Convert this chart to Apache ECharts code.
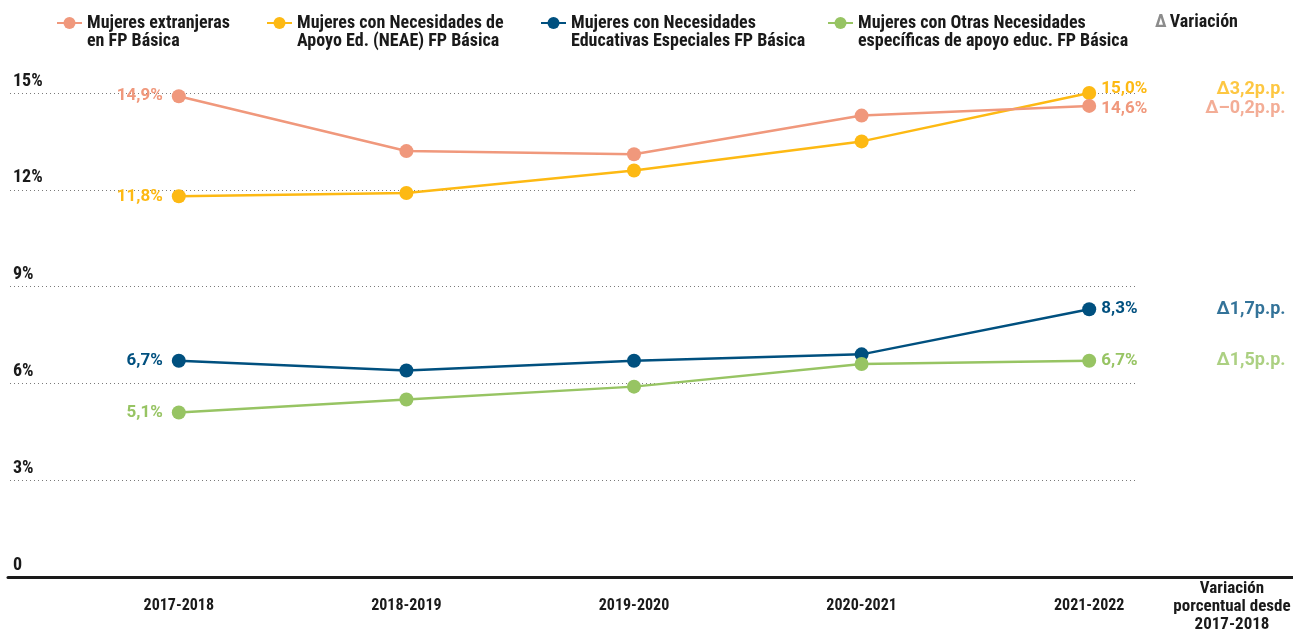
<!DOCTYPE html>
<html>
<head>
<meta charset="utf-8">
<script src="https://cdn.jsdelivr.net/npm/echarts@6/dist/echarts.min.js"></script>
<style>
  html, body { margin: 0; padding: 0; background: #ffffff; }
  #chart { width: 1293px; height: 630px; }
</style>
</head>
<body>
<div id="chart"></div>
<script>
// ---- Data ----
const categories = ['2017-2018', '2018-2019', '2019-2020', '2020-2021', '2021-2022'];
const seriesNames = [
  'Mujeres extranjeras\nen FP Básica',
  'Mujeres con Necesidades de\nApoyo Ed. (NEAE) FP Básica',
  'Mujeres con Necesidades\nEducativas Especiales FP Básica',
  'Mujeres con Otras Necesidades\nespecíficas de apoyo educ. FP Básica'
];
const extranjeras = [14.9, 13.2, 13.1, 14.3, 14.6];
const neae        = [11.8, 11.9, 12.6, 13.5, 15.0];
const nee         = [6.7, 6.4, 6.7, 6.9, 8.3];
const otras       = [5.1, 5.5, 5.9, 6.6, 6.7];
const variacion   = ['–0,2', '3,2', '1,7', '1,5']; // p.p. since 2017-2018
const yMin = 0, yMax = 15, yInterval = 3;
const variacionTitle = 'Variación\nporcentual desde\n2017-2018';

// ---- Styling ----
const colors = ['#F0987C', '#FDB913', '#00507F', '#97C463'];
const NARROW = '"Liberation Sans Narrow", "Roboto Condensed", "DejaVu Sans Condensed", "Arial Narrow", sans-serif';
const ROBOTO = 'Roboto, "Liberation Sans", sans-serif';
const allValues = [extranjeras, neae, nee, otras];
const legendLefts = [56, 266, 540, 827];
const endOffsets = [[0, 3], [0, -4], [0, 0], [0, 0]];
const fmt = v => v.toFixed(1).replace('.', ',') + '%';

const chart = echarts.init(document.getElementById('chart'), null, { renderer: 'canvas' });

const lineSeries = allValues.map((vals, s) => ({
  name: seriesNames[s],
  type: 'line',
  xAxisIndex: 1,
  yAxisIndex: 1,
  z: s === 0 ? 5 : 3,
  symbol: 'circle',
  symbolSize: 14,
  color: colors[s],
  lineStyle: { width: 2.5, color: colors[s] },
  itemStyle: { color: colors[s] },
  emphasis: { disabled: true },
  label: {
    show: false,
    color: colors[s],
    fontFamily: ROBOTO,
    fontWeight: 'bold',
    fontSize: 17,
    formatter: p => fmt(p.value)
  },
  data: vals.map((v, i) => {
    if (i === 0) return { value: v, label: { show: true, position: 'left', distance: 9 } };
    if (i === vals.length - 1) return { value: v, label: { show: true, position: 'right', distance: 5, offset: endOffsets[s] } };
    return v;
  })
}));

const deltaSeries = allValues.map((vals, s) => ({
  name: 'delta' + s,
  type: 'scatter',
  xAxisIndex: 2,
  yAxisIndex: 2,
  silent: true,
  symbolSize: 1,
  itemStyle: { color: 'rgba(0,0,0,0)' },
  label: {
    show: true,
    position: 'left',
    distance: 7,
    offset: endOffsets[s],
    color: colors[s],
    fontFamily: ROBOTO,
    fontWeight: 'bold',
    fontSize: 18,
    formatter: () => 'Δ' + variacion[s] + 'p.p.'
  },
  data: [[1, vals[vals.length - 1]]]
}));

const option = {
  animation: false,
  backgroundColor: '#ffffff',
  legend: seriesNames.map((n, i) => ({
    data: [n],
    left: legendLefts[i],
    top: -4,
    padding: 0,
    itemWidth: 25,
    itemHeight: 15,
    selectedMode: false,
    formatter: name => '\n' + name,
    textStyle: {
      fontFamily: NARROW,
      fontWeight: 'bold',
      fontSize: 18,
      color: '#1a1a1a',
      lineHeight: 18
    }
  })),
  graphic: [
    {
      type: 'text',
      x: 1155,
      y: 22,
      silent: true,
      style: {
        text: '{d|Δ} {v|Variación}',
        verticalAlign: 'middle',
        rich: {
          d: { fontFamily: NARROW, fontWeight: 'bold', fontSize: 18, fill: '#8c8c8c' },
          v: { fontFamily: NARROW, fontWeight: 'bold', fontSize: 18, fill: '#1a1a1a' }
        }
      }
    },
    {
      type: 'text',
      x: 1232,
      y: 580,
      silent: true,
      style: {
        text: variacionTitle,
        align: 'center',
        verticalAlign: 'top',
        fontFamily: NARROW,
        fontWeight: 'bold',
        fontSize: 17,
        lineHeight: 18,
        fill: '#1a1a1a'
      }
    }
  ],
  grid: [
    { left: 10, right: 156, top: 93, bottom: 53 },
    { left: 65, right: 90, top: 93, bottom: 53 },
    { left: 8, right: 0, top: 93, bottom: 53 }
  ],
  xAxis: [
    { gridIndex: 0, type: 'value', min: 0, max: 1, show: false },
    {
      gridIndex: 1, type: 'category', data: categories, boundaryGap: true,
      axisLine: { show: false }, axisTick: { show: false },
      axisLabel: { margin: 21, fontFamily: NARROW, fontWeight: 'bold', fontSize: 16, color: '#1a1a1a' }
    },
    {
      gridIndex: 2, type: 'value', min: 0, max: 1,
      axisLine: { show: true, lineStyle: { color: '#1a1a1a', width: 3 } },
      axisTick: { show: false }, axisLabel: { show: false }, splitLine: { show: false }
    }
  ],
  yAxis: [
    {
      gridIndex: 0, type: 'value', min: yMin, max: yMax, interval: yInterval,
      axisLine: { show: false }, axisTick: { show: false },
      splitLine: { show: true, lineStyle: { color: '#7a7a7a', width: 1, type: [1, 3] } },
      axisLabel: {
        inside: true, margin: 3, verticalAlign: 'bottom', padding: [0, 0, 3, 0],
        fontFamily: NARROW, fontWeight: 'bold', fontSize: 18, color: '#1a1a1a',
        formatter: v => v === 0 ? '0' : v + '%'
      }
    },
    { gridIndex: 1, type: 'value', min: yMin, max: yMax, interval: yInterval, show: false },
    { gridIndex: 2, type: 'value', min: yMin, max: yMax, interval: yInterval, show: false }
  ],
  series: lineSeries.concat(deltaSeries)
};

chart.setOption(option);
</script>
</body>
</html>
